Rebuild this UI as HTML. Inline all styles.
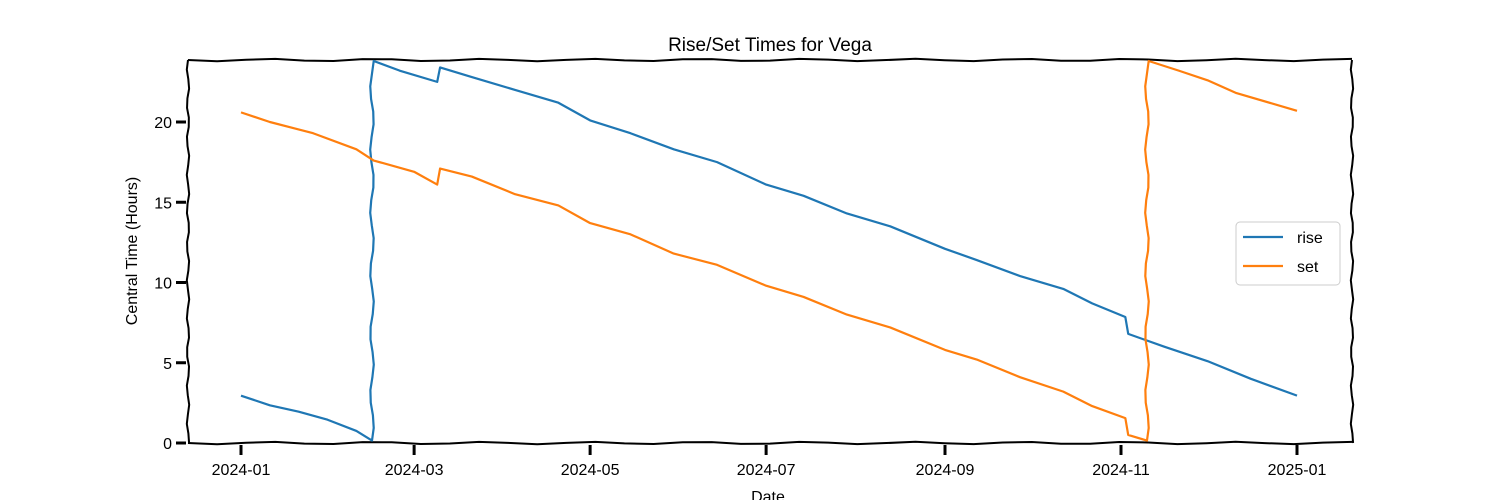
<!DOCTYPE html>
<html><head><meta charset="utf-8"><style>
body{margin:0;background:#fff;}
svg{display:block;font-family:"Comic Sans MS","Liberation Sans",sans-serif;}
</style></head><body>
<svg id="chart" width="1500" height="500" viewBox="0 0 1500 500" xmlns="http://www.w3.org/2000/svg">
<rect width="1500" height="500" fill="#fff"/>
<text x="770" y="51" font-size="19" text-anchor="middle">Rise/Set Times for Vega</text>
<text transform="translate(137,251) rotate(-90)" font-size="16" text-anchor="middle">Central Time (Hours)</text>
<text x="768" y="502" font-size="16" text-anchor="middle">Date</text>
<g id="plot"></g>
<g>
<rect x="1236" y="222" width="104" height="63" rx="4" fill="#fff" stroke="#ccc" stroke-width="1"/>
<line x1="1243" y1="237" x2="1283" y2="237" stroke="#1f77b4" stroke-width="2.2"/>
<text x="1297" y="243" font-size="16">rise</text>
<line x1="1243" y1="266" x2="1283" y2="266" stroke="#ff7f0e" stroke-width="2.2"/>
<text x="1297" y="272" font-size="16">set</text>
</g>
</svg>
<script>
const riseDays=[0,10,20,30,40,45.4,45.4,55,68,69,80,95,110,121,135,150,165,182,195,210,225,244,255,270,285,295,306.5,307.5,320,335,350,366];
const riseVals=[2.95,2.35,1.95,1.45,0.75,0.15,23.8,23.2,22.5,23.4,22.8,22.0,21.2,20.1,19.3,18.3,17.5,16.1,15.4,14.3,13.5,12.1,11.4,10.4,9.6,8.7,7.85,6.8,6.0,5.1,4.0,2.95];
const setDays=[0,10,25,40,46,60,68,69,80,95,110,121,135,150,165,182,195,210,225,244,255,270,285,295,306.5,307.5,314,314,325,335,345,366];
const setVals=[20.6,20.0,19.3,18.3,17.6,16.9,16.1,17.1,16.6,15.5,14.8,13.7,13.0,11.8,11.1,9.8,9.1,8.0,7.2,5.8,5.2,4.1,3.2,2.3,1.55,0.5,0.15,23.8,23.2,22.6,21.8,20.7];
const yTicks=[0,5,10,15,20];
const xTickDays=[0,60,121,182,244,305,366];
const xTickLabels=["2024-01","2024-03","2024-05","2024-07","2024-09","2024-11","2025-01"];

const NS="http://www.w3.org/2000/svg";
const g=document.getElementById('plot');
const L=188,R=1352,T=60,B=443;
function xs(d){return 241+d*(1056/366);}
function ys(v){return 443-v*16.05;}
function mk(t,a){const e=document.createElementNS(NS,t);for(const k in a)e.setAttribute(k,a[k]);g.appendChild(e);return e;}
function wob(x1,y1,x2,y2){let p=`M${x1},${y1}`;const n=40;for(let i=1;i<=n;i++){const t=i/n;const o=Math.sin(i*1.7)*1.2;const dx=x2-x1,dy=y2-y1,len=Math.hypot(dx,dy);p+=` L${x1+dx*t-dy/len*o},${y1+dy*t+dx/len*o}`;}return p;}
// spines
const sp=[[L,T,R,T,'spine-top'],[L,B,R,B,'spine-bottom'],[L,T,L,B,'spine-left'],[R,T,R,B,'spine-right']];
sp.forEach(s=>{const e=mk('path',{d:wob(s[0],s[1],s[2],s[3]),fill:'none',stroke:'#000','stroke-width':2});

});
yTicks.forEach(v=>{const y=ys(v);
const t=mk('line',{x1:L-12,y1:y,x2:L-2,y2:y,stroke:'#000','stroke-width':3});


const l=mk('text',{x:L-16,y:y+6,'font-size':16,'text-anchor':'end'});l.textContent=v;

});
xTickDays.forEach((d,i)=>{const x=xs(d);
const t=mk('line',{x1:x,y1:B+2,x2:x,y2:B+12,stroke:'#000','stroke-width':3});


const l=mk('text',{x:x,y:B+32,'font-size':16,'text-anchor':'middle'});l.textContent=xTickLabels[i];

});
function series(days,vals,color,name){let p='';for(let i=0;i<days.length;i++){const x=xs(days[i]),y=ys(vals[i]);
if(i>0&&Math.abs(vals[i]-vals[i-1])>10){const px=xs(days[i-1]),py=ys(vals[i-1]);const n=30;for(let k=1;k<=n;k++){const t=k/n;p+=` L${px+Math.sin(k*1.3)*1.8},${py+(y-py)*t}`;}}
else p+=(i?' L':'M')+x+','+y;}
const e=mk('path',{d:p,fill:'none',stroke:color,'stroke-width':2.2,'stroke-linejoin':'round'});

}
series(riseDays,riseVals,'#1f77b4','rise-line');
series(setDays,setVals,'#ff7f0e','set-line');
</script>
</body></html>
